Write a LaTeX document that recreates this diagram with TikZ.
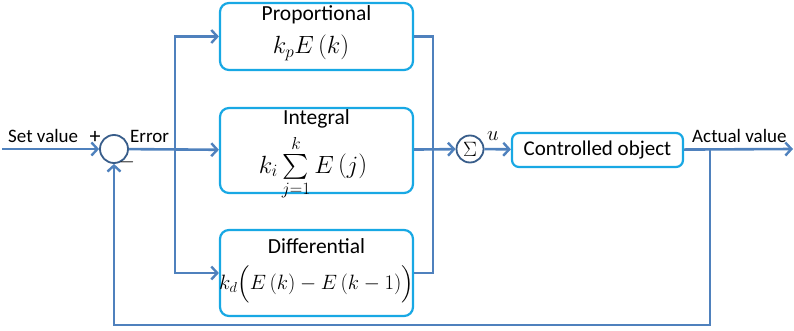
\documentclass[tikz,border=0pt]{standalone}
\usepackage{fontspec}
\setmainfont{Carlito}
\usepackage{amsmath}
\usetikzlibrary{arrows.meta, positioning}

\definecolor{wireblue}{RGB}{79,129,189}
\definecolor{boxblue}{RGB}{24,168,228}
\definecolor{ringblue}{RGB}{56,93,138}

\begin{document}
\begin{tikzpicture}[
        x=1pt, y=-1pt,
        block/.style={rectangle, rounded corners=9pt, draw=boxblue, line width=2.2pt, fill=white, minimum width=193pt},
        title/.style={inner sep=0pt, font=\fontsize{21.5}{24}\selectfont},
        formula/.style={inner sep=0pt, font=\fontsize{27}{29}\selectfont},
        ring/.style={circle, draw=ringblue, line width=1.8pt, fill=white, minimum size=28pt, inner sep=0pt},
        wire/.style={draw=wireblue, line width=2.6pt},
        flow/.style={wire, -{Straight Barb[length=6pt, width=13pt, line width=2.4pt]}},
        annot/.style={font=\fontsize{19}{21}\selectfont, inner sep=0pt}
    ]
    \useasboundingbox (0,0) rectangle (794,331);

    % Summing junction and input
    \node[ring] (sum1) at (114,149) {};
    \coordinate (setin) at (2,149);
    \node[annot, anchor=base west] (setlbl) at (8,143) {Set value};
    \node[annot, font=\fontsize{22}{22}\selectfont] (plus) at (95,137) {+};
    \node[annot, font=\fontsize{22}{22}\selectfont] (minus) at (127,162) {$-$};
    \node[annot, anchor=base west] (errlbl) at (130,143) {Error};

    % PID branches
    \node[block, minimum height=67pt] (prop) at (316.5,36.5) {};
    \node[title] (propt) at (316.5,15) {Proportional};
    \node[formula] (propf) at (311,48) {$k_pE\left(k\right)$};

    \node[block, minimum height=85pt] (integ) at (316.5,150.5) {};
    \node[title] (integt) at (316.5,119) {Integral};
    \node[formula, anchor=base, font=\fontsize{24}{26}\selectfont] (integf) at (313,173) {$k_i\sum\limits_{j=1}^{k}E\left(j\right)$};

    \node[block, minimum height=86pt] (diff) at (316.5,273) {};
    \node[title] (difft) at (316.5,246) {Differential};
    \node[formula, font=\fontsize{21}{23}\selectfont] (difff) at (316.5,284) {$k_d\Bigl(E\left(k\right)-E\left(k-1\right)\Bigr)$};

    \coordinate (split) at (175,149);
    \coordinate (merge) at (433,149);

    % Output side
    \node[ring, minimum size=27pt] (sum2) at (470,149) {\fontsize{20}{20}\selectfont$\Sigma$};
    \node[annot, anchor=base west] (ulbl) at (487,141) {\fontsize{22}{22}\selectfont$u$};
    \node[block, rounded corners=7pt, minimum width=171pt, minimum height=34pt, font=\fontsize{21}{23}\selectfont] (plant) at (597.5,150) {Controlled object};
    \node[annot, anchor=base west] (outlbl) at (692,143) {Actual value};
    \coordinate (out) at (793,149);
    \coordinate (tap) at (710,149);
    \coordinate (fb) at (710,325);

    % Arrows
    \draw[flow] (setin) -- (sum1);
    \draw[flow] (sum1) -- (integ);
    \draw[flow] (split) |- (prop);
    \draw[flow] (split) |- (diff);
    \draw[wire] (prop) -| (merge);
    \draw[wire] (diff) -| (merge);
    \draw[flow] (integ) -- (sum2);
    \draw[flow] (sum2) -- (plant);
    \draw[flow] (plant) -- (out);
    \draw[flow] (tap) -- (fb) -| (sum1);

\end{tikzpicture}
\end{document}
